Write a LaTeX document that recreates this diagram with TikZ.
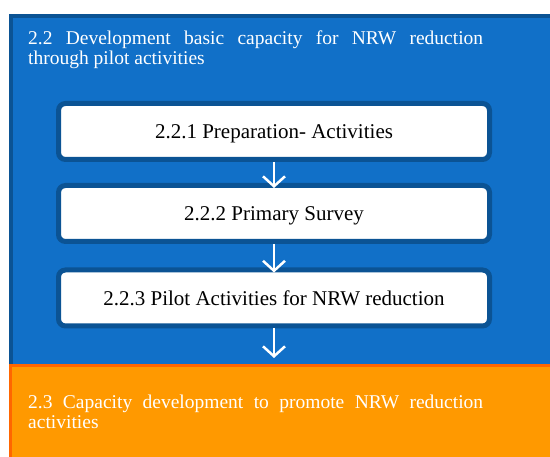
\documentclass[tikz,border=0pt]{standalone}
\usepackage{fontspec}
\setmainfont{Liberation Serif}
\usetikzlibrary{arrows.meta}
\hyphenpenalty=10000
\exhyphenpenalty=10000
\definecolor{bluefill}{RGB}{17,112,200}
\definecolor{blueedge}{RGB}{11,83,148}
\definecolor{orfill}{RGB}{255,153,0}
\definecolor{oredge}{RGB}{255,102,0}
\tikzset{
  bigblue/.style={draw=blueedge, fill=bluefill, line width=4pt, anchor=north west, inner sep=0pt},
  bigorange/.style={draw=oredge, fill=orfill, line width=3pt, anchor=north west, inner sep=0pt},
  stepbox/.style={draw=blueedge, fill=white, line width=5pt, rounded corners=7pt,
     minimum width=431pt, minimum height=56pt, inner sep=0pt, text height=17pt, text depth=2pt,
     font=\fontsize{21}{24}\selectfont},
  heading/.style={text=white, anchor=north west, inner sep=0pt, align=justify,
     text width=455pt, font=\fontsize{19.5}{20}\selectfont},
  flow/.style={draw=white, line width=2.5pt, -{Straight Barb[length=10pt,width=22pt,line width=2.5pt]}}
}
\begin{document}
\begin{tikzpicture}[x=1pt,y=-1pt]
\useasboundingbox (0,0) rectangle (550,457);
\begin{scope}
\clip (0,0) rectangle (550,457);
\node[bigblue, minimum width=560pt, minimum height=360pt] (g22) at (9,14) {};
\node[heading] (t22) at (28,31) {2.2 Development basic capacity for NRW reduction through pilot activities};
\node[stepbox] (b1) at (274,131.5) {2.2.1 Preparation- Activities};
\node[stepbox] (b2) at (274,213.5) {2.2.2 Primary Survey};
\node[stepbox] (b3) at (274,298) {2.2.3 Pilot Activities for NRW reduction};
\node[bigorange, minimum width=560pt, minimum height=110pt] (g23) at (8.5,364.5) {};
\node[heading] (t23) at (28,395) {2.3 Capacity development to promote NRW reduction activities};
\coordinate (e3) at (274,358);
\draw[flow] (b1.south) -- ([yshift=-5pt]b2.north);
\draw[flow] (b2.south) -- ([yshift=-5pt]b3.north);
\draw[flow] (b3.south) -- (e3);
\end{scope}
\end{tikzpicture}
\end{document}
